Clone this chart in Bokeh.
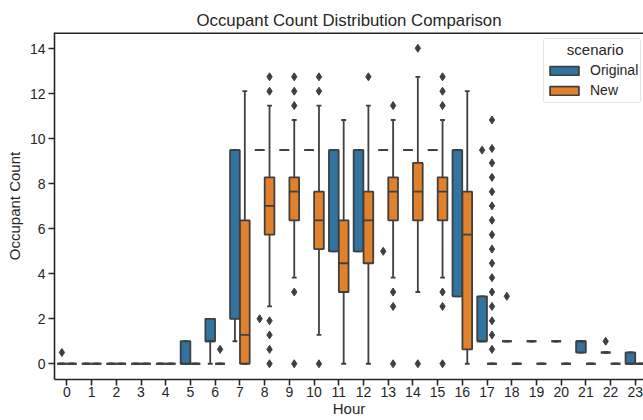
from bokeh.plotting import figure
from bokeh.models import (ColumnDataSource, Range1d, FixedTicker, Legend, LegendItem, Span)
from bokeh.transform import dodge
from bokeh.embed import file_html
from bokeh.resources import INLINE

hours = list(range(24))
scenarios = ["Original", "New"]
y_ticks = [0, 2, 4, 6, 8, 10, 12, 14]

# ---- Original scenario (box statistics) ----
orig_q1 = [0, 0, 0, 0, 0, 0, 1, 2, 9.5, 9.5, 9.5, 5, 5, 9.5, 9.5, 9.5, 3, 1, 1, 1, 1, 0.5, 0.5, 0]
orig_med = [0, 0, 0, 0, 0, 0, 1, 9.5, 9.5, 9.5, 9.5, 9.5, 9.5, 9.5, 9.5, 9.5, 9.5, 1, 1, 1, 1, 1, 0.5, 0]
orig_q3 = [0, 0, 0, 0, 0, 1, 2, 9.5, 9.5, 9.5, 9.5, 9.5, 9.5, 9.5, 9.5, 9.5, 9.5, 3, 1, 1, 1, 1, 0.5, 0.5]
orig_lo = [0, 0, 0, 0, 0, 0, 0, 1, 9.5, 9.5, 9.5, 5, 5, 9.5, 9.5, 9.5, 3, 1, 1, 1, 1, 0.5, 0.5, 0]
orig_hi = [0, 0, 0, 0, 0, 1, 2, 9.5, 9.5, 9.5, 9.5, 9.5, 9.5, 9.5, 9.5, 9.5, 9.5, 3, 1, 1, 1, 1, 0.5, 0.5]
orig_fliers = [[0.5], [], [], [], [], [], [], [], [2], [], [], [], [], [5], [], [], [],
               [9.5], [3], [], [], [], [1], []]

# ---- New scenario ----
new_q1 = [0, 0, 0, 0, 0, 0, 0, 0, 5.74, 6.38, 5.10, 3.19, 4.47, 6.38, 6.38, 6.38, 0.64, 0, 0, 0, 0, 0, 0, 0]
new_med = [0, 0, 0, 0, 0, 0, 0, 1.28, 7.02, 7.65, 6.38, 4.47, 6.38, 7.65, 7.65, 7.65, 5.74, 0, 0, 0, 0, 0, 0, 0]
new_q3 = [0, 0, 0, 0, 0, 0, 0, 6.38, 8.29, 8.29, 7.65, 6.38, 7.65, 8.29, 8.93, 8.29, 7.65, 0, 0, 0, 0, 0, 0, 0]
new_lo = [0, 0, 0, 0, 0, 0, 0, 0, 2.55, 3.83, 1.28, 0, 0, 3.83, 3.19, 3.83, 0, 0, 0, 0, 0, 0, 0, 0]
new_hi = [0, 0, 0, 0, 0, 0, 0, 12.12, 11.48, 10.84, 11.48, 10.84, 11.48, 10.84, 12.76, 10.84, 12.12, 0, 0, 0, 0, 0, 0, 0]
new_fliers = [[], [], [], [], [], [], [0.64], [],
              [0, 0.64, 1.28, 1.91, 12.12, 12.76],
              [0, 3.19, 11.48, 12.12, 12.76],
              [0, 12.12, 12.76],
              [],
              [12.76],
              [0, 2.55, 3.19, 11.48],
              [0, 14.03],
              [0, 2.55, 3.19, 11.48, 12.12, 12.76],
              [],
              [0.64, 1.28, 1.91, 2.55, 3.19, 3.83, 4.47, 5.10, 5.74, 6.38, 7.02, 7.65, 8.29, 8.93, 9.57, 10.84],
              [], [], [], [], [], []]

FONT = "Liberation Sans"
TXT = "#262626"
GRAY = "#3f3f3f"
COLORS = ["#3274a1", "#e1812c"]
LW = 1.8
BOX_W = 0.392
CAP_HW = BOX_W / 4

p = figure(width=643, height=420, output_backend="svg", toolbar_location=None,
           x_range=Range1d(-0.5, 23.33), y_range=Range1d(-0.7, 14.73),
           min_border_left=54, min_border_right=0, min_border_top=32, min_border_bottom=41,
           title="Occupant Count Distribution Comparison")
p.title.align = "center"
p.title.text_font = FONT
p.title.text_font_size = "16.8px"
p.title.text_font_style = "normal"
p.title.text_color = TXT
p.title.standoff = 5

p.xgrid.visible = False
p.ygrid.visible = False
p.outline_line_color = None
p.background_fill_color = "white"
p.border_fill_color = "white"

# top spine (the right spine lies beyond the visible area in the reference)
p.add_layout(Span(location=p.y_range.end, dimension="width", line_color=TXT, line_width=3.2))

xax = p.below[0]
yax = p.left[0]
xax.ticker = FixedTicker(ticks=hours)
yax.ticker = FixedTicker(ticks=y_ticks)
xax.axis_label = "Hour"
yax.axis_label = "Occupant Count"
for ax in (xax, yax):
    ax.axis_label_text_font = FONT
    ax.axis_label_text_font_size = "15px"
    ax.axis_label_text_font_style = "normal"
    ax.axis_label_text_color = TXT
    ax.major_label_text_font = FONT
    ax.major_label_text_font_size = "14px"
    ax.major_label_text_color = TXT
    ax.axis_line_color = TXT
    ax.axis_line_width = 1.6
    ax.major_tick_line_color = TXT
    ax.major_tick_line_width = 1.6
    ax.major_tick_out = 6
    ax.major_tick_in = 0
    ax.minor_tick_line_color = None
xax.major_label_standoff = 1
xax.axis_label_standoff = 0
yax.major_label_standoff = 3
yax.axis_label_standoff = 4

series = [
    (orig_q1, orig_med, orig_q3, orig_lo, orig_hi, orig_fliers),
    (new_q1, new_med, new_q3, new_lo, new_hi, new_fliers),
]
offsets = [-0.2, 0.2]
box_renderers = []
for (q1, med, q3, lo, hi, fl), off, col in zip(series, offsets, COLORS):
    src = ColumnDataSource(dict(hour=hours, q1=q1, med=med, q3=q3, lo=lo, hi=hi))
    # whiskers
    p.segment(x0=dodge("hour", off), x1=dodge("hour", off), y0="q1", y1="lo",
              source=src, line_color=GRAY, line_width=LW)
    p.segment(x0=dodge("hour", off), x1=dodge("hour", off), y0="q3", y1="hi",
              source=src, line_color=GRAY, line_width=LW)
    # caps
    p.segment(x0=dodge("hour", off - CAP_HW), x1=dodge("hour", off + CAP_HW), y0="lo", y1="lo",
              source=src, line_color=GRAY, line_width=LW)
    p.segment(x0=dodge("hour", off - CAP_HW), x1=dodge("hour", off + CAP_HW), y0="hi", y1="hi",
              source=src, line_color=GRAY, line_width=LW)
    # boxes
    r = p.vbar(x=dodge("hour", off), width=BOX_W, bottom="q1", top="q3", source=src,
               fill_color=col, line_color=GRAY, line_width=LW)
    box_renderers.append(r)
    # medians
    p.segment(x0=dodge("hour", off - BOX_W / 2), x1=dodge("hour", off + BOX_W / 2),
              y0="med", y1="med", source=src, line_color=GRAY, line_width=LW)
    # fliers
    fx, fy = [], []
    for h, vals in zip(hours, fl):
        for v in vals:
            fx.append(h)
            fy.append(v)
    fsrc = ColumnDataSource(dict(hour=fx, y=fy))
    p.scatter(x=dodge("hour", off), y="y", source=fsrc, marker="diamond", size=8,
              fill_color=GRAY, line_color=GRAY, line_width=1)

legend = Legend(items=[LegendItem(label=s, renderers=[r]) for s, r in zip(scenarios, box_renderers)],
                location=(489, 276))
legend.title = "\u00a0\u00a0\u00a0\u00a0\u00a0scenario"
legend.title_text_font = FONT
legend.title_text_font_size = "15px"
legend.title_text_font_style = "normal"
legend.title_text_color = TXT
legend.title_standoff = 2
legend.label_text_font = FONT
legend.label_text_font_size = "14px"
legend.label_text_color = TXT
legend.glyph_width = 36
legend.glyph_height = 11
legend.label_height = 20
legend.label_standoff = 8
legend.spacing = 0
legend.padding = 2
legend.margin = 0
legend.border_line_color = "#cccccc"
legend.border_line_width = 1
legend.background_fill_alpha = 0.8
if "border_radius" in legend.properties():
    legend.border_radius = 3
p.add_layout(legend)

open("out.html", "w").write(file_html(p, INLINE))
